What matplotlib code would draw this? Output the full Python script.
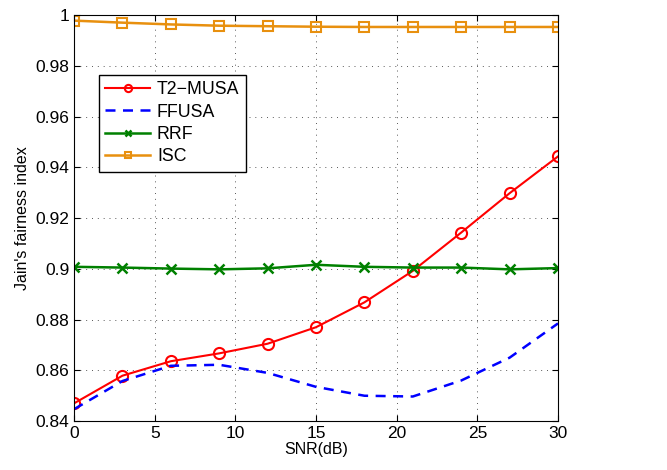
import matplotlib
matplotlib.use("Agg")
import matplotlib.pyplot as plt

snr = [0, 3, 6, 9, 12, 15, 18, 21, 24, 27, 30]
t2musa = [0.8470, 0.8579, 0.8636, 0.8667, 0.8705, 0.8770, 0.8868, 0.8992, 0.9143, 0.9298, 0.9443]
ffusa = [0.8447, 0.8558, 0.8618, 0.8622, 0.8590, 0.8535, 0.8500, 0.8497, 0.8560, 0.8650, 0.8785]
rrf = [0.9008, 0.9005, 0.9001, 0.8998, 0.9002, 0.9016, 0.9008, 0.9005, 0.9005, 0.8998, 0.9003]
isc = [0.9978, 0.9970, 0.9963, 0.9958, 0.9956, 0.9954, 0.9953, 0.9953, 0.9953, 0.9953, 0.9953]

plt.rcParams['font.family'] = ['Liberation Sans', 'DejaVu Sans']
plt.rcParams['font.size'] = 12

fig = plt.figure(figsize=(6.67, 4.70), dpi=100)
ax = fig.add_axes([0.111, 0.104, 0.7256, 0.864])

ax.plot(snr, t2musa, color='red', lw=1.5, marker='o', ms=8, mfc='none', mew=1.5, label='T2\u2212MUSA')
ax.plot(snr, ffusa, color='blue', lw=1.8, ls=(0, (4, 3)), label='FFUSA')
ax.plot(snr, rrf, color='#008000', lw=1.8, marker='x', ms=7, mew=1.8, label='RRF')
ax.plot(snr, isc, color='#E8900F', lw=1.8, marker='s', ms=7, mfc='none', mew=1.5, label='ISC')

ax.set_xlim(0, 30)
ax.set_ylim(0.84, 1.0)
ax.set_xticks([0, 5, 10, 15, 20, 25, 30])
ax.set_yticks([0.84, 0.86, 0.88, 0.90, 0.92, 0.94, 0.96, 0.98, 1.0])
ax.set_yticklabels(['0.84', '0.86', '0.88', '0.9', '0.92', '0.94', '0.96', '0.98', '1'])
ax.tick_params(direction='in', top=True, right=True, length=4, labelsize=12.5)
ax.grid(True, color='0.35', ls=(0, (1, 5)), lw=0.7)
ax.set_xlabel('SNR(dB)', labelpad=1, fontsize=11.5)
ax.set_ylabel("Jain's fairness index", fontsize=11.5)

ax.legend(loc='upper left', bbox_to_anchor=(0.052, 0.852), fancybox=False, edgecolor='black',
          framealpha=1, borderaxespad=0, handlelength=2.5, labelspacing=0.3, borderpad=0.35,
          fontsize=12.8, markerscale=0.65, handletextpad=0.4)

fig.savefig('out.png', dpi=100)
